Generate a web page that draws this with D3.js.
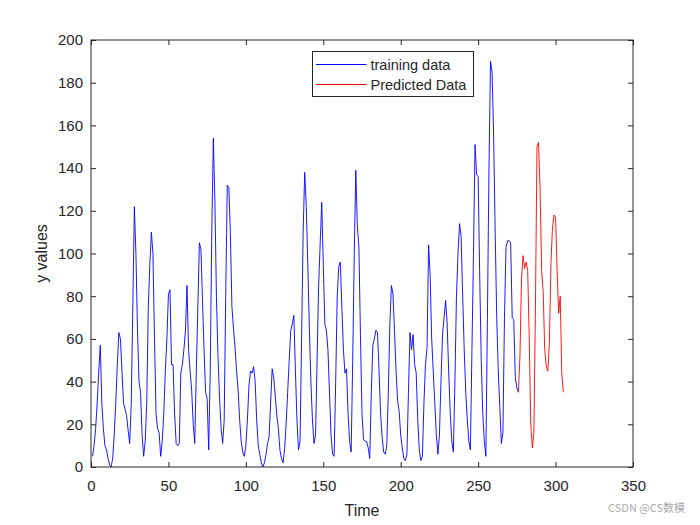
<!DOCTYPE html>
<meta charset="utf-8">
<head>
  <title>Training vs predicted</title>
</head>
<script src="https://d3js.org/d3.v7.min.js"></script>
<style>
  body { margin: 0; background: #fff; }
  text { font-family: "Liberation Sans", Arial, sans-serif; fill: #262626; }
</style>
<div id="chart"></div>
<script>
  // training series, x = 1..276
  var trainY = [5,10,18,30,45,57,30,18,10,8,4,1,0,4,15,30,48,63,60,45,
    30,27,24,17,11,30,75,122,100,65,40,35,15,5,12,30,75,95,110,100,
    60,25,18,16,5,12,25,45,60,81,83,48,48,25,11,10,11,44,48,55,
    64,85,55,45,36,20,11,45,75,105,102,78,55,35,32,8,45,110,154,125,
    80,52,33,18,11,22,80,132,131,110,75,65,56,45,36,22,12,7,5,10,
    22,38,45,44,47,40,22,10,6,2,0,2,6,11,14,30,46,42,33,24,
    18,8,4,2,8,20,35,50,64,67,71,45,22,8,12,60,110,138,122,95,
    65,40,22,11,15,50,85,105,124,95,67,64,55,35,15,6,5,40,80,94,
    96,75,55,44,46,25,12,7,50,100,139,113,103,62,25,13,12,12,9,4,
    35,57,60,64,63,45,25,14,7,6,10,35,67,85,81,63,45,31,26,15,
    9,4,3,6,35,63,55,62,48,44,22,8,3,5,30,48,56,104,90,60,
    45,30,15,6,15,40,62,70,78,67,44,25,12,7,40,80,100,114,108,80,
    55,35,22,12,8,55,100,151,137,136,90,50,25,12,5,70,140,190,185,155,
    110,70,45,28,11,16,70,103,106,106,105,70,69,42,37,35];
  var trainStart = 1;

  // predicted series, x = 276..305
  var predY = [35,52,88,99,93,96,92,60,20,9,16,75,150,152,130,92,82,55,47,45,
    58,95,112,118,117,92,72,80,44,35];
  var predStart = 276;

  var xTicks = [0, 50, 100, 150, 200, 250, 300, 350];
  var yTicks = [0, 20, 40, 60, 80, 100, 120, 140, 160, 180, 200];
  var seriesNames = ["training data", "Predicted Data"];
  var seriesColors = ["#0000ff", "#ff0000"];

  var W = 700, H = 525;
  var margin = {top: 40, right: 67, bottom: 58, left: 91},
      width = W - margin.left - margin.right,
      height = H - margin.top - margin.bottom;

  var svg = d3.select("#chart").append("svg")
      .attr("width", W)
      .attr("height", H);
  var g = svg.append("g")
      .attr("transform", "translate(" + margin.left + "," + margin.top + ")");

  var x = d3.scaleLinear().domain([0, 350]).range([0, width]);
  var y = d3.scaleLinear().domain([0, 200]).range([height, 0]);

  var train = trainY.map(function(v, i) { return [trainStart + i, v]; });
  var pred = predY.map(function(v, i) { return [predStart + i, v]; });

  var line = d3.line()
      .x(function(d) { return x(d[0]); })
      .y(function(d) { return y(d[1]); });

  g.append("path").datum(train)
    .attr("fill", "none").attr("stroke", seriesColors[0]).attr("stroke-width", 0.9)
    .attr("d", line);
  g.append("path").datum(pred)
    .attr("fill", "none").attr("stroke", seriesColors[1]).attr("stroke-width", 0.9)
    .attr("d", line);

  // axes, ticks pointing inward like matlab
  var tl = 5;
  function styleAxis(sel) {
    sel.select(".domain").remove();
    sel.selectAll(".tick line").attr("stroke", "#262626");
    sel.selectAll(".tick text").style("font-size", "15px").attr("fill", "#262626");
  }
  g.append("g").attr("transform", "translate(0," + height + ")")
    .call(d3.axisBottom(x).tickValues(xTicks).tickSizeInner(-tl).tickSizeOuter(0).tickPadding(13))
    .call(styleAxis);
  g.append("g")
    .call(d3.axisTop(x).tickValues(xTicks).tickSizeInner(-tl).tickSizeOuter(0).tickFormat(""))
    .call(styleAxis);
  g.append("g")
    .call(d3.axisLeft(y).tickValues(yTicks).tickSizeInner(-tl).tickSizeOuter(0).tickPadding(8))
    .call(styleAxis);
  g.append("g").attr("transform", "translate(" + width + ",0)")
    .call(d3.axisRight(y).tickValues(yTicks).tickSizeInner(-tl).tickSizeOuter(0).tickFormat(""))
    .call(styleAxis);

  g.append("rect")
    .attr("width", width).attr("height", height)
    .attr("fill", "none").attr("stroke", "#262626").attr("stroke-width", 1);

  // axis labels
  svg.append("text")
    .attr("x", margin.left + width / 2).attr("y", 516)
    .attr("text-anchor", "middle").style("font-size", "16px")
    .text("Time");
  svg.append("text")
    .attr("transform", "translate(47," + (margin.top + height / 2) + ") rotate(-90)")
    .attr("text-anchor", "middle").style("font-size", "16px")
    .text("y values");

  // legend
  var lg = svg.append("g").attr("transform", "translate(312.5,51.5)");
  lg.append("rect").attr("width", 161).attr("height", 45)
    .attr("fill", "#fff").attr("stroke", "#262626").attr("stroke-width", 1);
  seriesNames.forEach(function(name, i) {
    var yy = 13 + i * 20;
    lg.append("line").attr("x1", 3.5).attr("x2", 54).attr("y1", yy).attr("y2", yy)
      .style("stroke", seriesColors[i]).style("stroke-width", 1);
    lg.append("text").attr("x", 58).attr("y", yy + 5)
      .style("font-size", "14.5px").text(name);
  });

  // watermark
  svg.append("text")
    .attr("x", 685).attr("y", 512).attr("text-anchor", "end")
    .style("font-family", "'Noto Sans CJK SC', sans-serif")
    .style("font-size", "11px").style("fill", "#aaa")
    .text("CSDN @CS数模");
</script>
